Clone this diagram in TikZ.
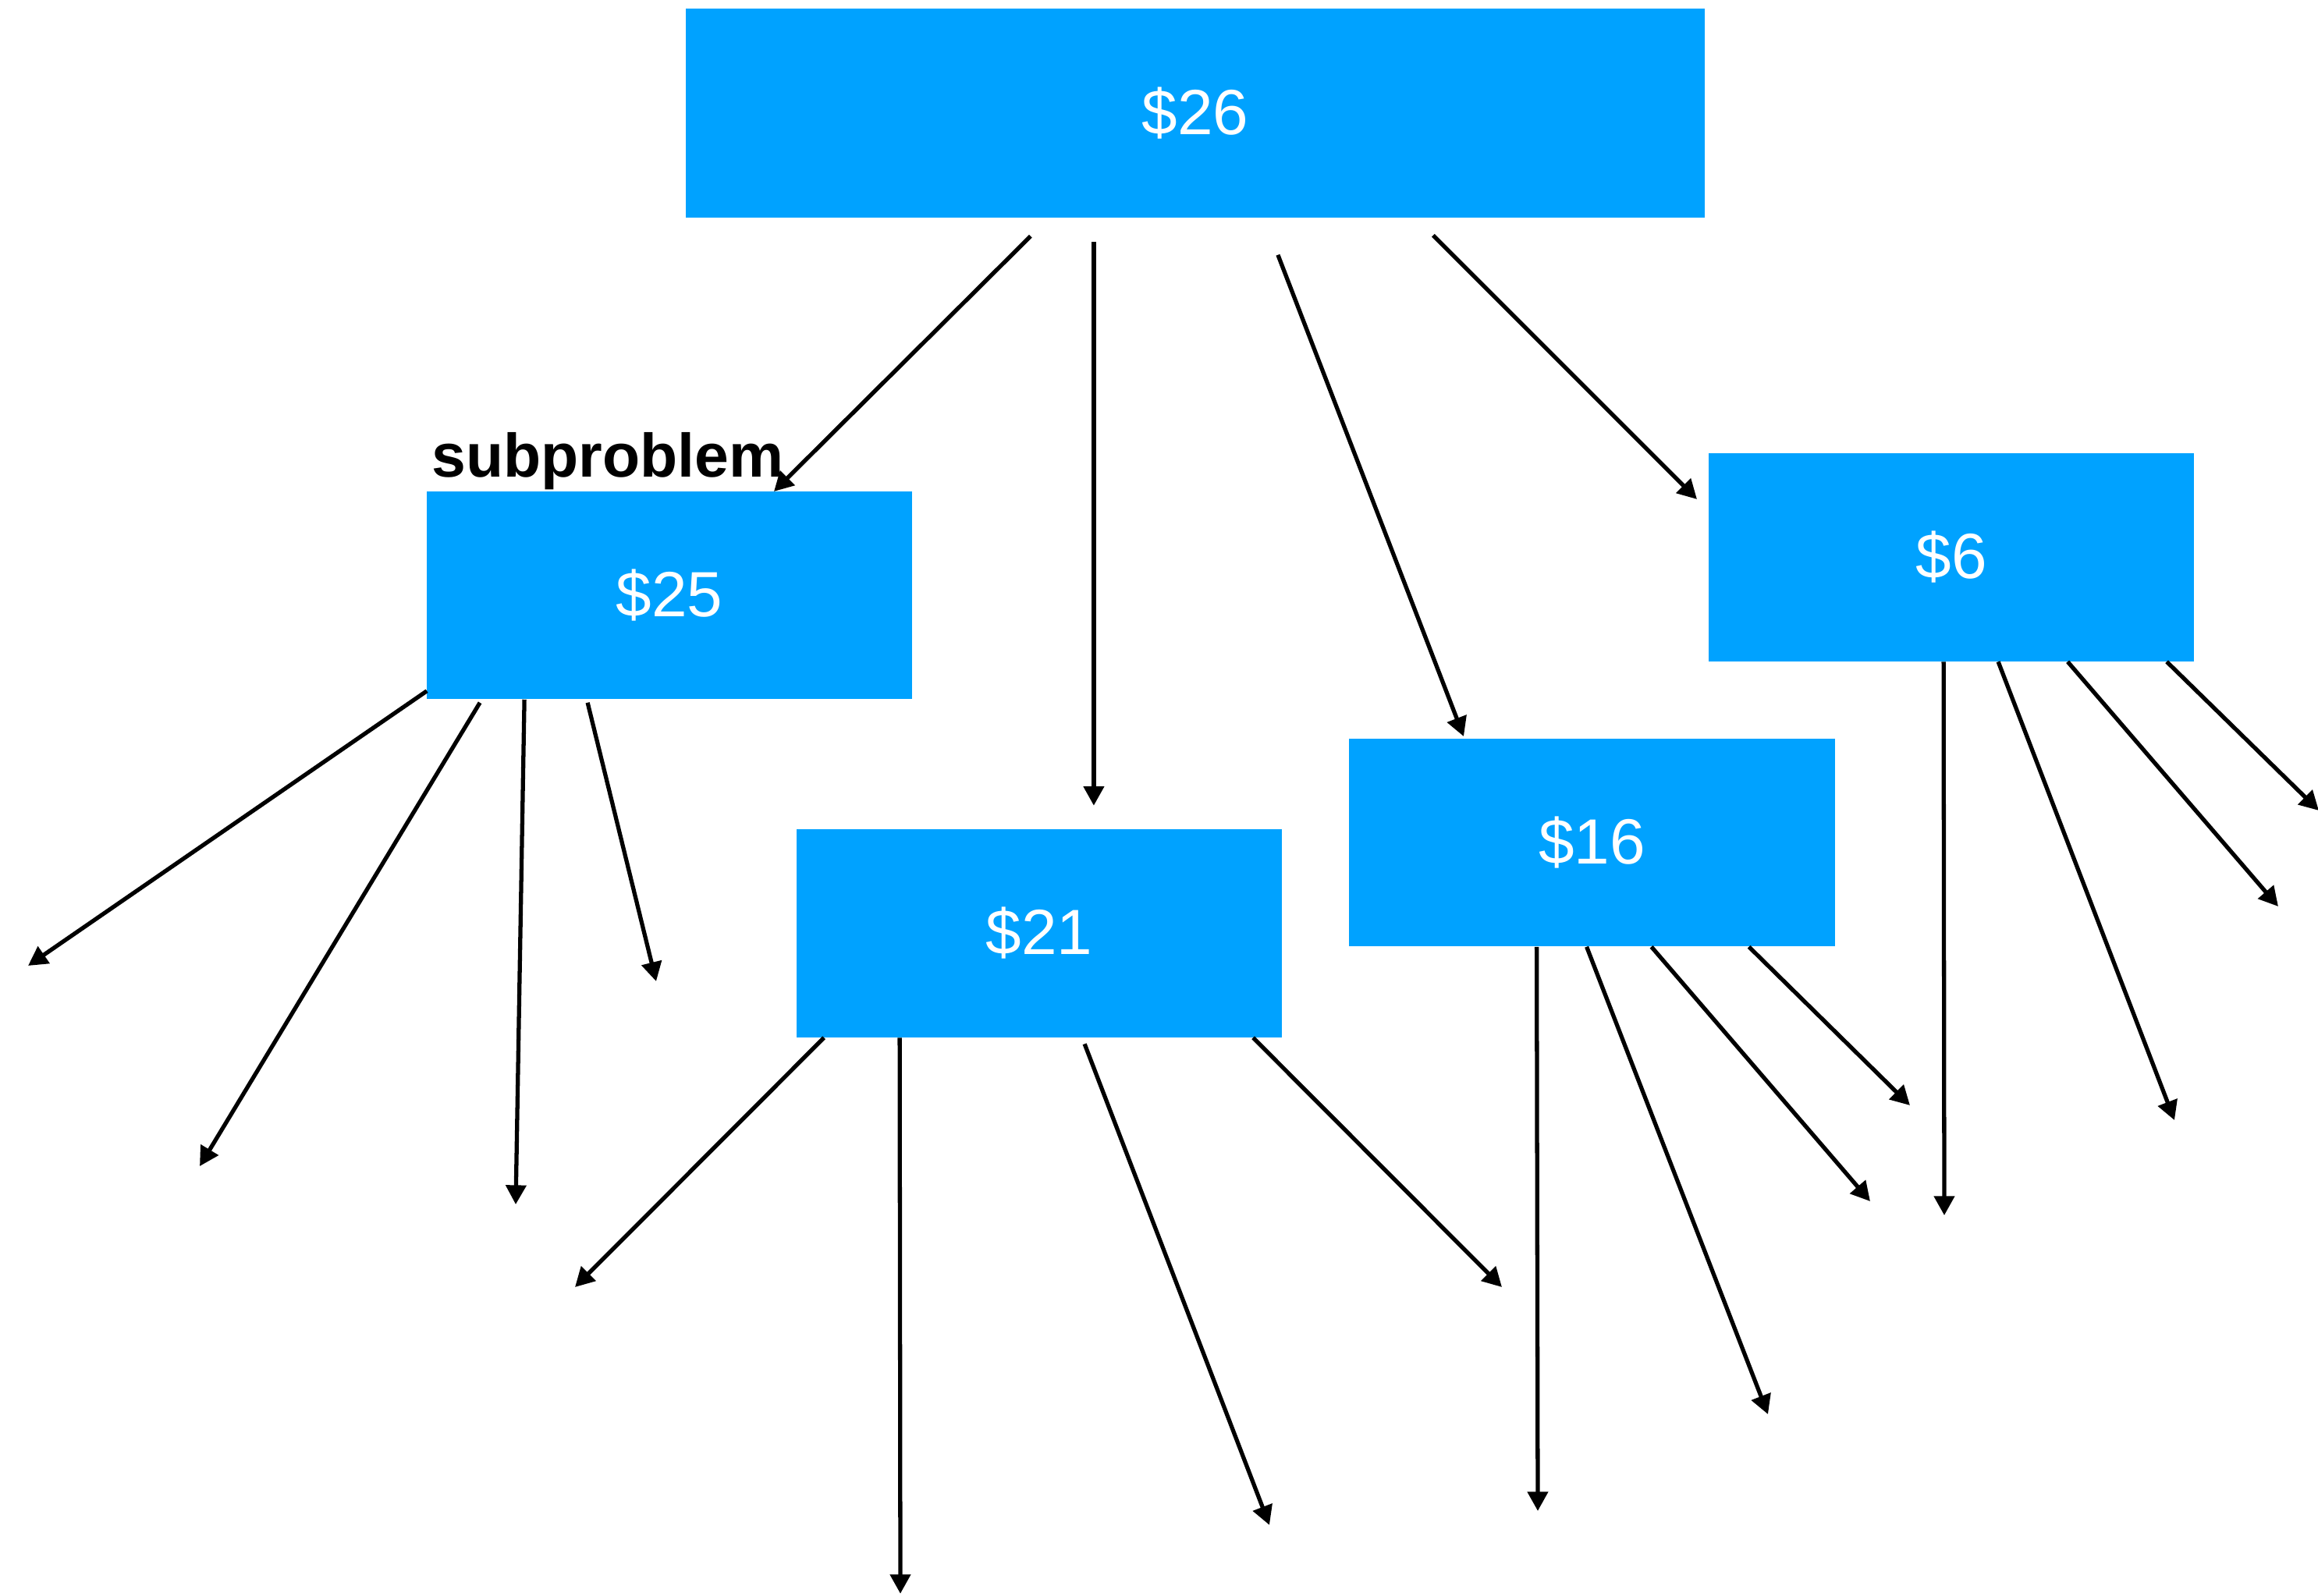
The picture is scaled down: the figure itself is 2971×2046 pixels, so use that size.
\documentclass[tikz,border=0pt]{standalone}
\usepackage{fontspec}
\setmainfont{Liberation Sans}
\usetikzlibrary{arrows.meta,calc}
\definecolor{boxblue}{RGB}{0,162,255}
\tikzset{
  amount/.style={rectangle, fill=boxblue, inner sep=0pt,
    minimum width=6.22cm, minimum height=2.66cm, text=white,
    font=\fontsize{23.3pt}{28pt}\selectfont},
  branch/.style={line width=1.5pt, -{Triangle[length=7pt,width=7.3pt]}},
  tag/.style={inner sep=0pt, font=\fontsize{22.4pt}{27pt}\selectfont\bfseries}
}
\begin{document}
\begin{tikzpicture}[x=0.01cm, y=-0.01cm]
\useasboundingbox (0,0) rectangle (2971,2046);

% amounts
\node[amount, minimum width=13.06cm, minimum height=2.68cm] (n26) at (1532,145) {\$26};
\node[amount] (n25) at (858,763) {\$25};
\node[amount] (n21) at (1332,1196.5) {\$21};
\node[amount] (n16) at (2040.5,1080) {\$16};
\node[amount] (n6)  at (2501,714.5) {\$6};

\node[tag, anchor=base west] (lbl) at (553,612) {subproblem};

% branch start points, placed against each box
\coordinate (a1s) at ($(n26.south west)+(443,23)$);
\coordinate (a2s) at ($(n26.south west)+(524,30)$);
\coordinate (a3s) at ($(n26.south west)+(760,47)$);
\coordinate (a4s) at ($(n26.south west)+(959,22)$);

\coordinate (b1s) at ($(n25.south west)+(1,-11)$);
\coordinate (b2s) at ($(n25.south west)+(69,4)$);
\coordinate (b3s) at ($(n25.south west)+(126,0)$);
\coordinate (b4s) at ($(n25.south west)+(207,4)$);

\coordinate (c1s) at ($(n21.south west)+(36,0)$);
\coordinate (c2s) at ($(n21.south west)+(133,0)$);
\coordinate (c3s) at ($(n21.south west)+(370,8)$);
\coordinate (c4s) at ($(n21.south west)+(586,0)$);

\coordinate (d1s) at ($(n16.south west)+(241,0)$);
\coordinate (d2s) at ($(n16.south west)+(305,0)$);
\coordinate (d3s) at ($(n16.south west)+(388,0)$);
\coordinate (d4s) at ($(n16.south west)+(513,0)$);

\coordinate (e1s) at ($(n6.south west)+(302,0)$);
\coordinate (e2s) at ($(n6.south west)+(372,0)$);
\coordinate (e3s) at ($(n6.south west)+(461,0)$);
\coordinate (e4s) at ($(n6.south west)+(588,0)$);

% ends of the branches from $26, just short of the boxes below
\coordinate (a1e) at (992,630);
\coordinate (a2e) at ($(a2s |- n21.north)+(0,-30)$);
\coordinate (a3e) at (1876,944);
\coordinate (a4e) at (2175,640);

% open branch ends
\coordinate (b1e) at (36,1238);
\coordinate (b2e) at (256,1495);
\coordinate (b3e) at (661,1544);
\coordinate (b4e) at (841,1258);
\coordinate (c1e) at (737,1650);
\coordinate (c2e) at (1154,2043);
\coordinate (c3e) at (1627,1955);
\coordinate (c4e) at (1925,1650);
\coordinate (d1e) at (1971,1937);
\coordinate (d2e) at (2266,1813);
\coordinate (d3e) at (2397,1540);
\coordinate (d4e) at (2448,1417);
\coordinate (e1e) at (2492,1558);
\coordinate (e2e) at (2787,1436);
\coordinate (e3e) at (2920,1162);
\coordinate (e4e) at (2972,1039);

% all branches
\foreach \k in {a1,a2,a3,a4,b1,b2,b3,b4,c1,c2,c3,c4,d1,d2,d3,d4,e1,e2,e3,e4}
  \draw[branch] (\k s) -- (\k e);
\end{tikzpicture}
\end{document}
